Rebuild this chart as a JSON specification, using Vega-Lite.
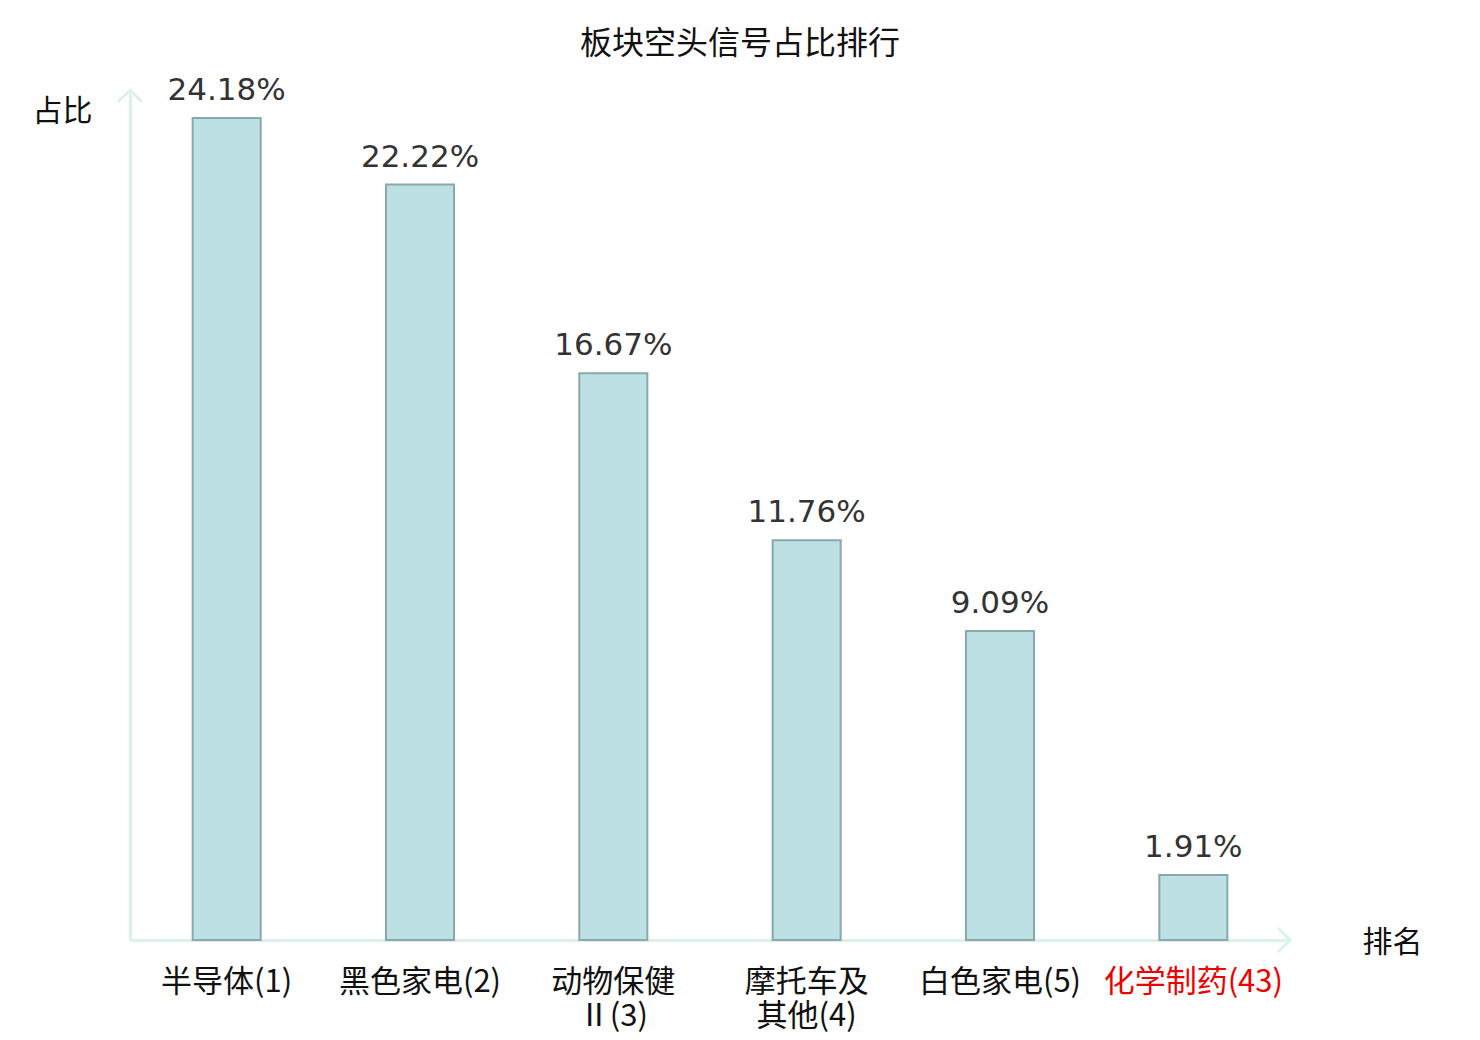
{
  "$schema": "https://vega.github.io/schema/vega-lite/v6.json",
  "autosize": "none",
  "width": 1160,
  "height": 850,
  "padding": {"left": 130, "top": 90, "right": 190, "bottom": 100},
  "background": "white",
  "title": {
    "text": "板块空头信号占比排行",
    "font": "Noto Sans CJK SC",
    "fontSize": 32,
    "fontWeight": "normal",
    "color": "#111111",
    "anchor": "middle",
    "frame": "group",
    "dx": 30,
    "offset": 14
  },
  "config": {
    "view": {"stroke": null},
    "axis": {"grid": false, "ticks": false, "domainColor": "#dcf0ed", "domainWidth": 3}
  },
  "data": {
    "values": [
      {"name": "半导体(1)", "ratio": 0.2418},
      {"name": "黑色家电(2)", "ratio": 0.2222},
      {"name": "动物保健|Ⅱ(3)", "ratio": 0.1667},
      {"name": "摩托车及|其他(4)", "ratio": 0.1176},
      {"name": "白色家电(5)", "ratio": 0.0909},
      {"name": "化学制药(43)", "ratio": 0.0191}
    ]
  },
  "encoding": {
    "x": {
      "field": "name",
      "type": "nominal",
      "sort": null,
      "scale": {"paddingInner": 0, "paddingOuter": 0},
      "axis": {
        "title": "排名",
        "titleFont": "Noto Sans CJK SC",
        "titleFontSize": 30,
        "titleFontWeight": "normal",
        "titleColor": "#111111",
        "titleAnchor": "start",
        "titleAlign": "left",
        "titleBaseline": "middle",
        "titleX": 1232,
        "titleY": 2,
        "labelAngle": 0,
        "labelFont": "Noto Sans CJK SC",
        "labelFontSize": 31,
        "labelLineHeight": 34,
        "labelPadding": 27,
        "labelBaseline": "top",
        "labelExpr": "split(datum.label, '|')",
        "labelColor": {"condition": {"test": "datum.value == '化学制药(43)'", "value": "#ee0000"}, "value": "#111111"}
      }
    },
    "y": {
      "field": "ratio",
      "type": "quantitative",
      "scale": {"domain": [0, 0.25], "nice": false},
      "axis": {
        "title": "占比",
        "labels": false,
        "titleFont": "Noto Sans CJK SC",
        "titleFontSize": 30,
        "titleFontWeight": "normal",
        "titleColor": "#111111",
        "titleAngle": 0,
        "titleAlign": "right",
        "titleBaseline": "middle",
        "titleX": -38,
        "titleY": 21
      }
    }
  },
  "layer": [
    {
      "mark": {"type": "bar", "width": {"band": 0.352}, "fill": "#bce0e3", "stroke": "#8aa8aa", "strokeWidth": 2}
    },
    {
      "mark": {"type": "text", "font": "DejaVu Sans", "fontSize": 31, "color": "#333333", "baseline": "bottom", "dy": -11},
      "encoding": {"text": {"field": "ratio", "type": "quantitative", "format": ".2%"}}
    },
    {
      "data": {"values": [{"axis": "x"}]},
      "mark": {"type": "point", "shape": "M-2,-2L0,0L-2,2", "size": 144, "filled": false, "stroke": "#dcf0ed", "strokeWidth": 3, "opacity": 1},
      "encoding": {"x": {"value": "width"}, "y": {"value": "height"}}
    },
    {
      "data": {"values": [{"axis": "y"}]},
      "mark": {"type": "point", "shape": "M-2,2L0,0L2,2", "size": 144, "filled": false, "stroke": "#dcf0ed", "strokeWidth": 3, "opacity": 1},
      "encoding": {"x": {"value": 0}, "y": {"value": 0}}
    }
  ]
}
